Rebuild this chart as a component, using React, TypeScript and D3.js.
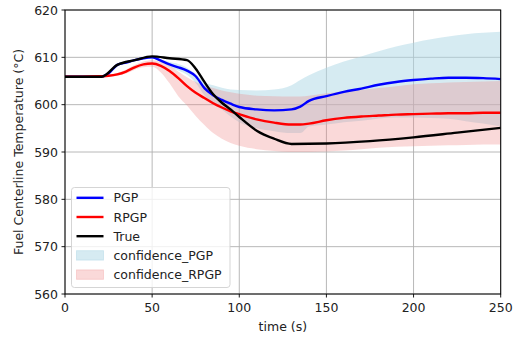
import React from "react";
import * as d3 from "d3";

const times = [0,10,20,25,30,35,40,45,50,55,60,65,70,75,80,85,90,95,100,110,120,130,135,140,150,160,170,180,190,200,210,220,230,240,250];
const pgp = [605.9,605.9,605.9,606.6,608.4,608.9,609.4,609.8,610.0,609.3,608.5,607.9,607.2,606.0,603.5,602.0,601.0,600.2,599.5,599.0,598.8,599.0,599.6,600.8,601.8,602.7,603.4,604.2,604.8,605.2,605.5,605.7,605.7,605.6,605.4];
const rpgp = [605.9,605.9,606.0,606.1,606.4,607.0,607.9,608.5,608.7,608.2,607.1,605.6,603.9,602.5,601.4,600.3,599.4,598.6,598.0,596.9,596.2,595.8,595.8,596.0,596.7,597.2,597.5,597.7,597.9,598.0,598.1,598.2,598.2,598.3,598.3];
const pgpUpper = [606.0,606.0,606.0,606.7,608.6,609.1,609.6,610.0,610.2,609.6,609.0,608.6,607.8,606.4,604.8,604.1,603.6,603.2,603.1,603.0,603.2,604.1,605.2,606.2,607.8,609.1,610.2,611.3,612.3,613.1,613.8,614.4,614.9,615.2,615.4];
const pgpLower = [605.8,605.8,605.8,606.5,608.2,608.7,609.2,609.6,609.8,609.0,608.0,607.2,606.3,604.6,602.0,600.2,599.0,597.5,596.3,595.0,594.4,594.0,594.0,595.4,595.8,596.3,596.6,597.1,597.3,597.3,597.2,597.0,596.5,596.0,595.4];
const rpgpUpper = [606.0,606.0,606.1,606.3,606.7,607.4,608.4,609.1,609.4,609.0,608.2,607.0,605.8,604.8,604.0,603.5,603.0,602.6,602.3,601.9,601.8,601.7,601.7,601.9,602.4,602.8,603.1,603.5,603.9,604.3,604.5,604.7,604.8,604.9,605.0];
const rpgpLower = [605.8,605.8,605.9,605.9,606.1,606.6,607.4,607.9,608.0,606.8,604.5,601.8,599.8,597.6,595.7,594.0,592.8,591.9,591.3,590.6,590.2,590.0,590.0,590.0,590.1,590.3,590.6,590.9,591.1,591.2,591.3,591.4,591.5,591.6,591.6];

const trueTimes = [0,21,30,40,50,60,70,75,80,85,90,95,100,110,120,130,150,175,200,225,250];
const trueVals = [605.9,605.9,608.4,609.4,610.2,609.8,609.4,607.6,604.8,602.2,600.4,599.0,597.4,594.5,592.8,591.7,591.8,592.3,593.1,594.1,595.1];

const xTicks = [0,50,100,150,200,250];
const yTicks = [560,570,580,590,600,610,620];

const legendItems = [
  { label: "PGP", type: "line", color: "#0000ff" },
  { label: "RPGP", type: "line", color: "#ff0000" },
  { label: "True", type: "line", color: "#000000" },
  { label: "confidence_PGP", type: "patch", color: "#add8e6", opacity: 0.5 },
  { label: "confidence_RPGP", type: "patch", color: "#f08080", opacity: 0.3 },
];

const W = 522, H = 338;
const L = 65, R = 500.7, T = 10, B = 294;
const FONT = "DejaVu Sans, sans-serif";
const FS = 12.5;

export default function App() {
  const x = d3.scaleLinear().domain([0, 250]).range([L, R]);
  const y = d3.scaleLinear().domain([560, 620]).range([B, T]);
  const line = (xs: number[], ys: number[]) =>
    d3.line<number>().x((_, i) => x(xs[i])).y((v) => y(v)).curve(d3.curveMonotoneX)(ys) || "";
  const area = (xs: number[], lo: number[], hi: number[]) =>
    d3.area<number>().x((_, i) => x(xs[i])).y0((_, i) => y(lo[i])).y1((v) => y(v)).curve(d3.curveMonotoneX)(hi) || "";

  const lgX = 71.5, lgY = 187.5, lgW = 158.5, lgH = 100, lgStep = 19.2;

  return (
    <svg width={W} height={H} style={{ position: "absolute", left: 0, top: 0 }} fontFamily={FONT}>
      <rect width={W} height={H} fill="#fff" />
      <defs>
        <clipPath id="plot"><rect x={L} y={T} width={R - L} height={B - T} /></clipPath>
      </defs>
      {xTicks.map((t) => (
        <line key={"gx" + t} x1={x(t)} x2={x(t)} y1={T} y2={B} stroke="#b0b0b0" strokeWidth={0.9} />
      ))}
      {yTicks.map((t) => (
        <line key={"gy" + t} x1={L} x2={R} y1={y(t)} y2={y(t)} stroke="#b0b0b0" strokeWidth={0.9} />
      ))}
      <g clipPath="url(#plot)">
        <path d={area(times, pgpLower, pgpUpper)} fill="#add8e6" fillOpacity={0.5} />
        <path d={area(times, rpgpLower, rpgpUpper)} fill="#f08080" fillOpacity={0.3} />
        <path d={line(times, pgp)} fill="none" stroke="#0000ff" strokeWidth={2.4} />
        <path d={line(times, rpgp)} fill="none" stroke="#ff0000" strokeWidth={2.4} />
        <path d={line(trueTimes, trueVals)} fill="none" stroke="#000000" strokeWidth={2.4} />
      </g>
      <rect x={L} y={T} width={R - L} height={B - T} fill="none" stroke="#000" strokeWidth={1} />
      {xTicks.map((t) => (
        <g key={"xt" + t}>
          <line x1={x(t)} x2={x(t)} y1={B} y2={B + 3.5} stroke="#000" strokeWidth={0.9} />
          <text x={x(t)} y={B + 17.5} textAnchor="middle" fontSize={FS} fill="#222">{t}</text>
        </g>
      ))}
      {yTicks.map((t) => (
        <g key={"yt" + t}>
          <line x1={L - 3.5} x2={L} y1={y(t)} y2={y(t)} stroke="#000" strokeWidth={0.9} />
          <text x={L - 7} y={y(t)} dy="0.36em" textAnchor="end" fontSize={FS} fill="#222">{t}</text>
        </g>
      ))}
      <text x={(L + R) / 2} y={331} textAnchor="middle" fontSize={FS} fill="#222">time (s)</text>
      <text transform={`translate(23,${(T + B) / 2}) rotate(-90)`} textAnchor="middle" fontSize={FS} fill="#222">
        Fuel Centerline Temperature (°C)
      </text>
      <rect x={lgX} y={lgY} width={lgW} height={lgH} rx={3} fill="#fff" fillOpacity={0.8} stroke="#d0d0d0" strokeWidth={0.9} />
      {legendItems.map((it, i) => {
        const cy = lgY + 10.3 + i * lgStep;
        return (
          <g key={it.label}>
            {it.type === "line" ? (
              <line x1={76.5} x2={103.5} y1={cy} y2={cy} stroke={it.color} strokeWidth={2.4} />
            ) : (
              <rect x={76.5} y={cy - 4.7} width={27} height={9.4} fill={it.color} fillOpacity={it.opacity} stroke={it.color} strokeOpacity={it.opacity} strokeWidth={0.9} />
            )}
            <text x={113.5} y={cy} dy="0.36em" fontSize={FS} fill="#222">{it.label}</text>
          </g>
        );
      })}
    </svg>
  );
}
